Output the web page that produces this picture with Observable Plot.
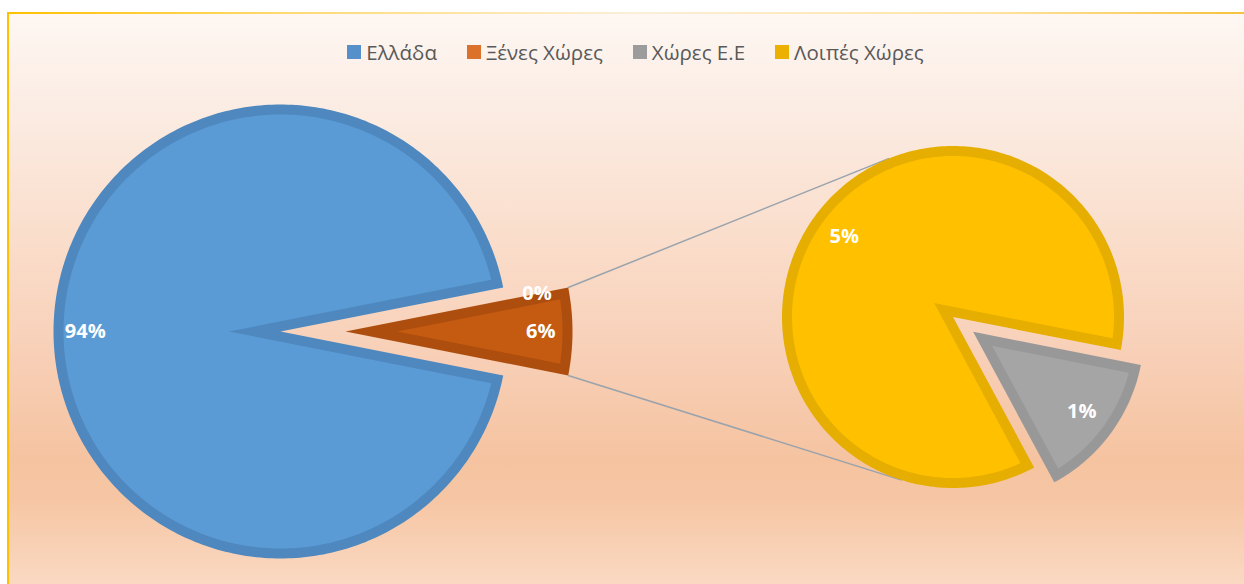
<!DOCTYPE html>
<html><head><meta charset="utf-8">
<script src="https://cdn.jsdelivr.net/npm/d3@7"></script>
<script src="https://cdn.jsdelivr.net/npm/@observablehq/plot@0.6"></script>
<style>
html,body{margin:0;padding:0;width:1244px;height:584px;overflow:hidden;background:#fff;}
#frame{position:absolute;left:7px;top:13px;width:1257px;height:571px;border-left:2px solid #FFC000;box-sizing:border-box;
background:linear-gradient(to bottom,#FEF7F3 0%,#FBEBE1 18.7%,#FADCC9 41.5%,#F8D0B8 59%,#F5C3A0 78.3%,#F6C6A4 85.3%,#FAD9C2 100%);}
#topline{position:absolute;left:7px;top:12px;width:1257px;height:2px;background:linear-gradient(to right,#FFC000 0%,#FFDA70 22%,#FCEFD8 50%,#FFE3A0 78%,#F5C038 100%);}
#legend{position:absolute;left:7px;width:1257px;top:39px;height:26px;display:flex;justify-content:center;align-items:center;font-family:"Open Sans",sans-serif;font-size:20.5px;color:#595959;white-space:nowrap;}
.item{display:flex;align-items:center;margin:0 15px;}
.sw{width:14px;height:14px;margin-right:5px;}
#plot{position:absolute;left:0;top:0;}
</style>
</head><body>
<div id="frame"></div>
<div id="topline"></div>
<div id="plot"></div>
<div id="legend"></div>
<script>
// ---- data ----
const categories = ["Ελλάδα", "Ξένες Χώρες", "Χώρες Ε.Ε", "Λοιπές Χώρες"];
const values = [93.8, 0, 0.87, 5.33];
const mainCategories = ["Ελλάδα", "Ξένες Χώρες"];
const secondaryCategories = ["Χώρες Ε.Ε", "Λοιπές Χώρες"];
const otherName = "Other";

// ---- styles ----
const fillColors = {"Ελλάδα":"#5B9BD5","Ξένες Χώρες":"#ED7D31","Χώρες Ε.Ε":"#A5A5A5","Λοιπές Χώρες":"#FFC000","Other":"#C55A11"};
const borderColors = {"Ελλάδα":"#4E88BF","Ξένες Χώρες":"#D06A25","Χώρες Ε.Ε":"#989898","Λοιπές Χώρες":"#E6AE00","Other":"#AD4E0E"};
const swatchColors = {"Ελλάδα":"#5590CA","Ξένες Χώρες":"#DB712B","Χώρες Ε.Ε":"#9C9C9C","Λοιπές Χώρες":"#EBB000"};
const explodeBy = {"Ελλάδα":0,"Ξένες Χώρες":65,"Other":65,"Χώρες Ε.Ε":25,"Λοιπές Χώρες":0};

// ---- layout ----
const W = 1244, H = 584;
const mainPie = {cx:280, cy:331, r:227, labelR:0.86};
const secPie = {cx:952.5, cy:316.5, r:171, labelR:0.79};
const inset = 10;

const val = Object.fromEntries(categories.map((c,i)=>[c, values[i]]));
const total = d3.sum(values);
const otherValue = d3.sum(secondaryCategories, c=>val[c]);
const halfOther = otherValue/total*Math.PI;
const pct = v => Math.round(v*100) + "%";

const slices = [];
slices.push({key:otherName, pie:mainPie, a0:-halfOther, a1:halfOther, frac:otherValue/total});
let s = halfOther;
for (const c of mainCategories) { const a = val[c]/total*2*Math.PI; slices.push({key:c, pie:mainPie, a0:s, a1:s+a, frac:val[c]/total}); s += a; }
s = halfOther;
for (const c of secondaryCategories) { const a = val[c]/otherValue*2*Math.PI; slices.push({key:c, pie:secPie, a0:s, a1:s+a, frac:val[c]/total}); s += a; }

const outerPts = [], innerPts = [], labelPts = [];
function arc(out, id, color, vx, vy, r, a0, a1) {
  const n = Math.max(2, Math.ceil((a1-a0)/(Math.PI/180)));
  for (let i=0;i<=n;i++){ const a=a0+(a1-a0)*i/n; out.push({id, color, x:vx+r*Math.cos(a), y:vy+r*Math.sin(a)}); }
}
const oth = slices[0];
for (const sl of slices) {
  const mid = (sl.a0+sl.a1)/2, ux = Math.cos(mid), uy = Math.sin(mid);
  const phi = sl.a1 - sl.a0;
  const e = explodeBy[sl.key];
  if (phi > 0 || sl === oth) {
    sl.vx = sl.pie.cx + e*ux; sl.vy = sl.pie.cy + e*uy;
  } else {
    // zero-size slice sits on the edge of the exploded "Other" slice
    sl.vx = oth.vx; sl.vy = oth.vy;
  }
  labelPts.push({x: sl.vx + sl.pie.labelR*sl.pie.r*ux, y: sl.vy + sl.pie.labelR*sl.pie.r*uy, text: pct(sl.frac)});
  if (phi <= 0) continue;
  outerPts.push({id:sl.key, color:borderColors[sl.key], x:sl.vx, y:sl.vy});
  arc(outerPts, sl.key, borderColors[sl.key], sl.vx, sl.vy, sl.pie.r, sl.a0, sl.a1);
  const d = inset/Math.sin(phi/2), ri = sl.pie.r - inset, da = Math.asin(inset/ri);
  innerPts.push({id:sl.key, color:fillColors[sl.key], x:sl.vx + d*ux, y:sl.vy + d*uy});
  arc(innerPts, sl.key, fillColors[sl.key], sl.vx, sl.vy, ri, sl.a0+da, sl.a1-da);
}

// leader lines: from "Other" slice corners, tangent to secondary pie
function tangent(px, py, sign) {
  const dx = px-secPie.cx, dy = py-secPie.cy, dd = Math.hypot(dx,dy);
  const a = Math.atan2(dy,dx) + sign*Math.acos(secPie.r/dd);
  return [secPie.cx + secPie.r*Math.cos(a), secPie.cy + secPie.r*Math.sin(a)];
}
const links = [-1, 1].map(k => {
  const ang = k*halfOther;
  const x1 = oth.vx + mainPie.r*Math.cos(ang), y1 = oth.vy + mainPie.r*Math.sin(ang);
  const [x2,y2] = tangent(x1, y1, k < 0 ? 1 : -1);
  return {x1,y1,x2,y2};
});

const chart = Plot.plot({
  width: W, height: H, margin: 0,
  x: {domain:[0,W], range:[0,W], axis:null},
  y: {domain:[0,H], range:[0,H], axis:null},
  color: {type:"identity"},
  style: {background:"transparent", overflow:"visible"},
  marks: [
    Plot.link(links, {x1:"x1", y1:"y1", x2:"x2", y2:"y2", stroke:"#99A3AD", strokeWidth:1.5}),
    Plot.line(outerPts, {x:"x", y:"y", z:"id", fill:"color", stroke:"none", curve:"linear"}),
    Plot.line(innerPts, {x:"x", y:"y", z:"id", fill:"color", stroke:"none", curve:"linear"}),
    Plot.text(labelPts, {x:"x", y:"y", text:"text", fill:"white", fontSize:20, fontWeight:"bold", fontFamily:"Open Sans", textAnchor:"middle", lineAnchor:"middle"})
  ]
});
document.getElementById("plot").appendChild(chart);

const leg = document.getElementById("legend");
for (const c of categories) {
  const it = document.createElement("div"); it.className = "item";
  const sw = document.createElement("div"); sw.className = "sw"; sw.style.background = swatchColors[c];
  const tx = document.createElement("span"); tx.textContent = c;
  it.appendChild(sw); it.appendChild(tx); leg.appendChild(it);
}
</script>
</body></html>
